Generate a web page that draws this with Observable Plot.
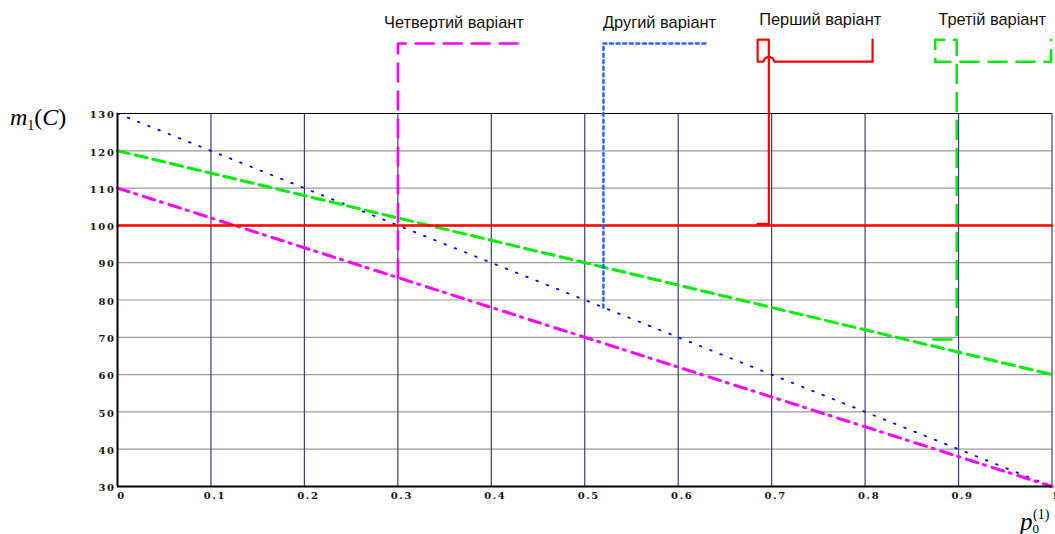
<!DOCTYPE html>
<html>
<head>
<meta charset="utf-8">
<script src="https://cdn.jsdelivr.net/npm/d3@7"></script>
<script src="https://cdn.jsdelivr.net/npm/@observablehq/plot@0.6"></script>
<style>
  html, body { margin: 0; padding: 0; background: #fff; }
</style>
</head>
<body>
<div id="chart"></div>
<script>
// ---- data ----
const xTicks = [0, 0.1, 0.2, 0.3, 0.4, 0.5, 0.6, 0.7, 0.8, 0.9, 1];
const xLabels = ["0", "0.1", "0.2", "0.3", "0.4", "0.5", "0.6", "0.7", "0.8", "0.9", "1"];
const yTicks = [30, 40, 50, 60, 70, 80, 90, 100, 110, 120, 130];
const yLabels = ["30", "40", "50", "60", "70", "80", "90", "100", "110", "120", "130"];

const pEnds = [0, 1];
const variant1 = [100, 100];   // Перший варіант
const variant2 = [130, 30];    // Другий варіант
const variant3 = [120, 60];    // Третій варіант
const variant4 = [110, 30];    // Четвертий варіант

// callout leaders (data units, p / m)
const call4P = [0.3, 0.3, 0.428];
const call4M = [86, 148.8, 148.8];
const call2P = [0.52, 0.52, 0.631];
const call2M = [78, 148.8, 148.8];
const call1P = [0.685, 0.697, 0.697, 0.685, 0.685, 0.691, 0.693, 0.697, 0.701, 0.703, 0.808, 0.808];
const call1M = [100.4, 100.4, 149.8, 149.8, 143.9, 143.9, 144.8, 145.3, 144.8, 143.9, 143.9, 149.8];
const call3P = [0.873, 0.898, 0.898, 0.875, 0.875, 0.999, 0.999];
const call3M = [69.4, 69.4, 149.8, 149.8, 143.9, 143.9, 149.8];

const labelText = ["Четвертий варіант", "Другий варіант", "Перший варіант", "Третій варіант"];
const labelP = [0.36, 0.58, 0.752, 0.936];
const labelM = [154.3, 154.3, 155.1, 155.1];

const xGrid = [0.1, 0.2, 0.3, 0.4, 0.5, 0.6, 0.7, 0.8, 0.9, 1];
const yGrid = [40, 50, 60, 70, 80, 90, 100, 110, 120];

// ---- helpers ----
const pts = (P, M) => P.map((p, i) => ({p, m: M[i]}));
const tickFont = {fontFamily: "DejaVu Serif", fontSize: 10, fontWeight: "bold", fill: "#111"};

const svg = Plot.plot({
  width: 1055,
  height: 534,
  marginLeft: 117,
  marginRight: 3.5,
  marginTop: 113,
  marginBottom: 48,
  x: {domain: [0, 1], axis: null},
  y: {domain: [30, 130], axis: null},
  style: {background: "#fff", overflow: "visible"},
  marks: [
    Plot.ruleY(yGrid, {stroke: "#9a9a9a", strokeWidth: 1.2}),
    Plot.ruleX(xGrid, {stroke: "#3c3c78", strokeWidth: 1.2}),
    Plot.ruleY([130], {stroke: "#000", strokeWidth: 1.2}),

    // series
    Plot.line(pts(pEnds, variant2), {x: "p", y: "m", stroke: "#0000ff", strokeWidth: 1.8, strokeDasharray: "1.6,9.4"}),
    Plot.line(pts(pEnds, variant3), {x: "p", y: "m", stroke: "#00ee00", strokeWidth: 3, strokeDasharray: "12,6.2"}),
    Plot.line(pts(pEnds, variant4), {x: "p", y: "m", stroke: "#ff00ff", strokeWidth: 3, strokeDasharray: "12,6,2,7"}),
    Plot.line(pts(pEnds, variant1), {x: "p", y: "m", stroke: "#ff0000", strokeWidth: 2.5}),

    // callouts
    Plot.line(pts(call4P, call4M), {x: "p", y: "m", stroke: "#ff00ff", strokeWidth: 2.5, strokeDasharray: "18,10"}),
    Plot.line(pts(call2P, call2M), {x: "p", y: "m", stroke: "#3060ff", strokeWidth: 2.5, strokeDasharray: "3,3.6"}),
    Plot.line(pts(call1P, call1M), {x: "p", y: "m", stroke: "#ff0000", strokeWidth: 2.2}),
    Plot.line(pts(call3P, call3M), {x: "p", y: "m", stroke: "#00ee00", strokeWidth: 2.5, strokeDasharray: "18,10"}),

    Plot.text(labelText, {x: (d, i) => labelP[i], y: (d, i) => labelM[i], text: d => d,
      fontFamily: "Liberation Sans", fontSize: 16.4, fill: "#111", lineAnchor: "middle"}),

    // frame axes
    Plot.ruleX([0], {stroke: "#000", strokeWidth: 2}),
    Plot.ruleY([30], {stroke: "#000", strokeWidth: 2}),

    // tick labels
    Plot.text(xTicks, {x: d => d, y: 30, text: (d, i) => xLabels[i], dy: 9, dx: 4, lineAnchor: "middle", ...tickFont}),
    Plot.text(yTicks, {x: 0, y: d => d, text: (d, i) => yLabels[i], dx: -2, dy: 1.5, textAnchor: "end", lineAnchor: "middle", ...tickFont})
  ]
});

const s = d3.select(svg);
// wide, short tick-label glyphs
s.selectAll('g[font-family="DejaVu Serif"]').attr("letter-spacing", "1.6px");

// axis titles
const t1 = s.append("text").attr("x", 10).attr("y", 125).attr("text-anchor", "start")
  .attr("font-family", "Liberation Serif").attr("font-size", 24).attr("fill", "#000");
t1.append("tspan").attr("font-style", "italic").text("m");
t1.append("tspan").attr("font-size", 14).attr("dy", 5).text("1");
t1.append("tspan").attr("dy", -5).text("(");
t1.append("tspan").attr("font-style", "italic").text("C");
t1.append("tspan").text(")");

const t2 = s.append("text").attr("x", 1020).attr("y", 530).attr("text-anchor", "start")
  .attr("font-family", "Liberation Serif").attr("font-size", 25).attr("fill", "#000");
t2.append("tspan").attr("font-style", "italic").text("p");
t2.append("tspan").attr("font-size", 13).attr("dy", 3).text("0");
s.append("text").attr("x", 1033).attr("y", 519).attr("text-anchor", "start")
  .attr("font-family", "Liberation Serif").attr("font-size", 14).attr("fill", "#000").text("(1)");

document.getElementById("chart").appendChild(svg);
</script>
</body>
</html>
